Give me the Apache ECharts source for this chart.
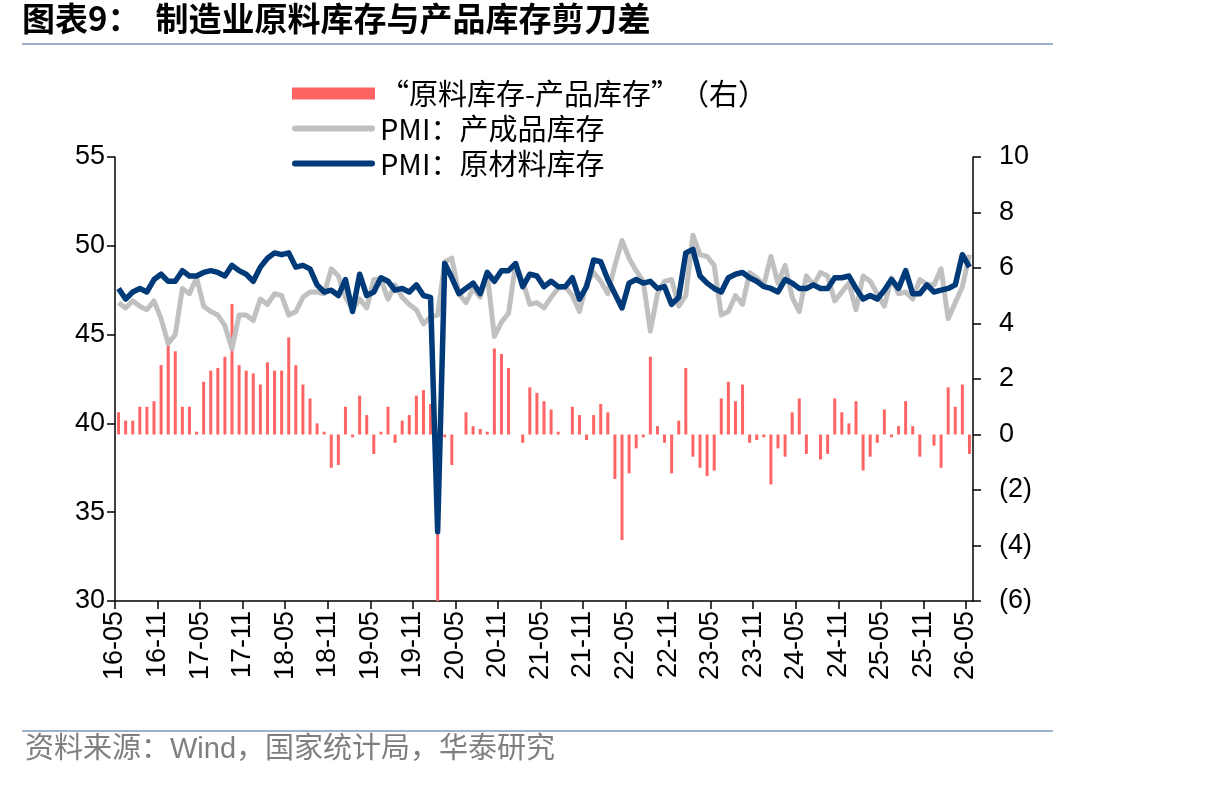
<!DOCTYPE html>
<html><head><meta charset="utf-8">
<script src="https://cdn.jsdelivr.net/npm/echarts@6/dist/echarts.min.js"></script>
<style>html,body{margin:0;padding:0;background:#fff}#c{width:1206px;height:786px}</style>
</head><body><div id="c"></div>
<script>
const months = [
 '16-05','16-06','16-07','16-08','16-09','16-10','16-11','16-12',
 '17-01','17-02','17-03','17-04','17-05','17-06','17-07','17-08','17-09','17-10','17-11','17-12',
 '18-01','18-02','18-03','18-04','18-05','18-06','18-07','18-08','18-09','18-10','18-11','18-12',
 '19-01','19-02','19-03','19-04','19-05','19-06','19-07','19-08','19-09','19-10','19-11','19-12',
 '20-01','20-02','20-03','20-04','20-05','20-06','20-07','20-08','20-09','20-10','20-11','20-12',
 '21-01','21-02','21-03','21-04','21-05','21-06','21-07','21-08','21-09','21-10','21-11','21-12',
 '22-01','22-02','22-03','22-04','22-05','22-06','22-07','22-08','22-09','22-10','22-11','22-12',
 '23-01','23-02','23-03','23-04','23-05','23-06','23-07','23-08','23-09','23-10','23-11','23-12',
 '24-01','24-02','24-03','24-04','24-05','24-06','24-07','24-08','24-09','24-10','24-11','24-12',
 '25-01','25-02','25-03','25-04','25-05','25-06','25-07','25-08','25-09','25-10','25-11','25-12',
 '26-01','26-02','26-03','26-04','26-05'
];
// tick-label axis: one extra slot at the right end (no data, no label shown)
const tickLabels = months.concat(['26-06']);

// PMI: 原材料库存 (left axis)
const rawMaterial = [
 47.6,47.0,47.4,47.6,47.4,48.1,48.4,48.0,
 48.0,48.6,48.3,48.3,48.5,48.6,48.5,48.3,48.9,48.6,48.4,48.0,
 48.8,49.3,49.6,49.5,49.6,48.8,48.9,48.7,47.8,47.4,47.5,47.2,
 48.1,46.3,48.4,47.2,47.4,48.2,48.0,47.5,47.6,47.4,47.8,47.2,
 47.1,33.9,49.0,48.2,47.3,47.6,47.9,47.3,48.5,48.0,48.6,48.6,
 49.0,47.7,48.4,48.3,47.7,48.0,47.7,47.7,48.2,47.0,47.7,49.2,
 49.1,48.1,47.3,46.5,47.9,48.1,47.9,48.0,47.6,47.7,46.7,47.1,
 49.6,49.8,48.3,47.9,47.6,47.4,48.2,48.4,48.5,48.2,48.0,47.7,
 47.6,47.4,48.1,47.9,47.6,47.6,47.8,47.6,47.6,48.2,48.2,48.3,
 47.6,47.0,47.2,47.0,47.5,48.1,47.6,48.6,47.3,47.3,47.8,47.4,
 47.5,47.6,47.8,49.5,48.8
];
// PMI: 产成品库存 (left axis)
const finishedGoods = [
 46.8,46.5,46.9,46.6,46.4,46.9,45.9,44.5,
 45.0,47.6,47.3,48.2,46.6,46.3,46.1,45.5,44.2,46.1,46.1,45.8,
 47.0,46.7,47.3,47.2,46.1,46.3,47.1,47.4,47.4,47.3,48.7,48.3,
 47.1,46.4,47.0,46.5,48.1,48.1,47.0,47.8,47.1,46.7,46.4,45.6,
 46.0,46.1,49.1,49.3,47.3,46.8,47.6,47.1,48.4,44.9,45.7,46.2,
 49.0,48.0,46.7,46.8,46.5,47.1,47.6,47.7,47.2,46.3,47.9,48.5,
 48.0,47.3,48.9,50.3,49.3,48.6,48.0,45.2,47.3,48.0,48.1,46.6,
 47.2,50.6,49.5,49.4,48.9,46.1,46.3,47.2,46.7,48.5,48.2,47.8,
 49.4,47.9,48.9,47.1,46.3,48.3,47.8,48.5,48.3,46.9,47.4,47.9,
 46.4,48.3,48.0,47.3,46.6,48.2,47.3,47.4,47.0,48.1,47.8,47.8,
 48.7,45.9,46.8,47.7,49.5
];
// “原料库存-产品库存” (right axis)
const spread = [
 0.8,0.5,0.5,1.0,1.0,1.2,2.5,3.5,
 3.0,1.0,1.0,0.1,1.9,2.3,2.4,2.8,4.7,2.5,2.3,2.2,
 1.8,2.6,2.3,2.3,3.5,2.5,1.8,1.3,0.4,0.1,-1.2,-1.1,
 1.0,-0.1,1.4,0.7,-0.7,0.1,1.0,-0.3,0.5,0.7,1.4,1.6,
 1.1,-12.2,-0.1,-1.1,0.0,0.8,0.3,0.2,0.1,3.1,2.9,2.4,
 0.0,-0.3,1.7,1.5,1.2,0.9,0.1,0.0,1.0,0.7,-0.2,0.7,
 1.1,0.8,-1.6,-3.8,-1.4,-0.5,-0.1,2.8,0.3,-0.3,-1.4,0.5,
 2.4,-0.8,-1.2,-1.5,-1.3,1.3,1.9,1.2,1.8,-0.3,-0.2,-0.1,
 -1.8,-0.5,-0.8,0.8,1.3,-0.7,0.0,-0.9,-0.7,1.3,0.8,0.4,
 1.2,-1.3,-0.8,-0.3,0.9,-0.1,0.3,1.2,0.3,-0.8,0.0,-0.4,
 -1.2,1.7,1.0,1.8,-0.7
];

const names = ['“原料库存-产品库存”（右）', 'PMI：产成品库存', 'PMI：原材料库存'];
const C_BAR = '#FF6464', C_GRAY = '#C0C0C0', C_BLUE = '#003A78';
const NUM_FONT = '"Liberation Sans", Arial, sans-serif';
const CJK_FONT = '"Noto Sans CJK SC", sans-serif';

const chart = echarts.init(document.getElementById('c'), null, {renderer: 'canvas'});
const lineIcon = 'path://M3,0L80,0A3,3 0 0 1 80,6L3,6A3,3 0 0 1 3,0Z';

chart.setOption({
  animation: false,
  backgroundColor: '#fff',
  graphic: [
    {type: 'text', left: 22, top: 2, style: {text: '图表9：  制造业原料库存与产品库存剪刀差', font: 'bold 33px "Noto Sans CJK SC", sans-serif', fill: '#000'}},
    {type: 'rect', shape: {x: 22, y: 43, width: 1031, height: 2}, style: {fill: '#9CB2CB'}},
    {type: 'rect', shape: {x: 22, y: 730, width: 1031, height: 2}, style: {fill: '#9CB2CB'}},
    {type: 'text', left: 25, top: 735, style: {text: '资料来源：Wind，国家统计局，华泰研究', font: '29px "Liberation Sans", "Noto Sans CJK SC", sans-serif', fill: '#7F7F7F'}}
  ],
  legend: {
    orient: 'vertical', left: 292, top: 79, padding: 0,
    itemWidth: 83, itemHeight: 12, itemGap: 6,
    textStyle: {fontFamily: CJK_FONT, fontSize: 29, color: '#000', lineHeight: 29},
    data: [
      {name: names[0], icon: 'rect'},
      {name: names[1], icon: lineIcon},
      {name: names[2], icon: lineIcon}
    ]
  },
  grid: {left: 115, right: 233, top: 157, bottom: 185, containLabel: false},
  xAxis: [
    {type: 'category', data: months, boundaryGap: true, position: 'top', show: false},
    {type: 'category', data: tickLabels, boundaryGap: false, position: 'bottom',
     axisLine: {lineStyle: {color: '#000', width: 1.5}},
     axisTick: {interval: 5, length: 8, lineStyle: {color: '#000', width: 1.5}},
     axisLabel: {interval: 5, rotate: 90, margin: 10, fontFamily: NUM_FONT, fontSize: 27, color: '#000'},
     splitLine: {show: false}}
  ],
  yAxis: [
    {type: 'value', min: 30, max: 55, interval: 5, position: 'left',
     axisLine: {show: true, lineStyle: {color: '#000', width: 1.5}},
     axisTick: {show: true, length: 8, lineStyle: {color: '#000', width: 1.5}},
     axisLabel: {margin: 10, fontFamily: NUM_FONT, fontSize: 27, color: '#000'},
     splitLine: {show: false}},
    {type: 'value', min: -6, max: 10, interval: 2, position: 'right',
     axisLine: {show: true, lineStyle: {color: '#000', width: 1.5}},
     axisTick: {show: true, length: 8, lineStyle: {color: '#000', width: 1.5}},
     axisLabel: {margin: 26, fontFamily: NUM_FONT, fontSize: 27, color: '#000',
       formatter: v => v < 0 ? '(' + Math.abs(v) + ')' : String(v)},
     splitLine: {show: false}}
  ],
  series: [
    {name: names[0], type: 'bar', xAxisIndex: 0, yAxisIndex: 1, data: spread,
     barWidth: 3, clip: true, itemStyle: {color: C_BAR}, z: 2},
    {name: names[1], type: 'line', xAxisIndex: 0, yAxisIndex: 0, data: finishedGoods,
     showSymbol: false, symbol: 'none', color: C_GRAY, itemStyle: {color: C_GRAY},
     lineStyle: {color: C_GRAY, width: 5, join: 'round'}, z: 3},
    {name: names[2], type: 'line', xAxisIndex: 0, yAxisIndex: 0, data: rawMaterial,
     showSymbol: false, symbol: 'none', color: C_BLUE, itemStyle: {color: C_BLUE},
     lineStyle: {color: C_BLUE, width: 5.5, join: 'round'}, z: 4}
  ]
});
</script></body></html>
